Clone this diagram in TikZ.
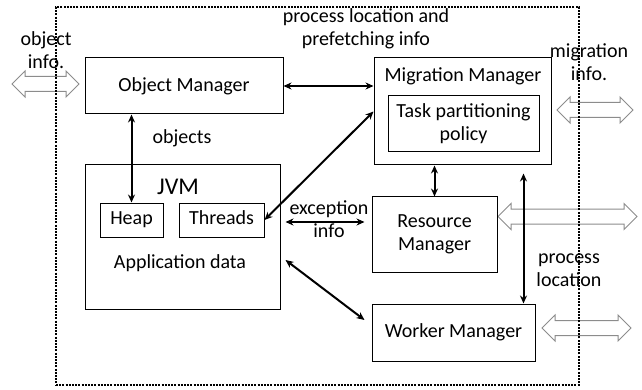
\documentclass[tikz,border=0pt]{standalone}
\usepackage{fontspec}
\setmainfont{Carlito}
\usetikzlibrary{arrows.meta,positioning,shapes.arrows,calc}

\begin{document}
\begin{tikzpicture}[x=1pt,y=-1pt,font=\fontsize{20}{23}\selectfont,
  box/.style={draw,line width=1pt,inner sep=0pt,align=center},
  link/.style={{Stealth[length=8pt,width=7pt]}-{Stealth[length=8pt,width=7pt]},line width=2pt},
  info/.style={double arrow,draw=black!45,line width=1pt,inner sep=0pt,
               inner ysep=7pt,double arrow head extend=5.5pt},
  lbl/.style={align=center,inner sep=0pt}]
  \useasboundingbox (0,0) rectangle (642,390);

  % interface arrows to the outside
  \node[info,minimum height=67pt] (oi) at (45.5,84) {};
  \node[info,minimum height=76pt] (mi) at (595,110) {};
  \node[info,minimum height=139pt] (ri) at (567.5,216.5) {};
  \node[info,minimum height=89pt] (wi) at (586.5,328) {};

  % node boundary
  \node[draw,line width=2.4pt,dash pattern=on 2pt off 1.2pt,
        minimum width=523pt,minimum height=378pt] (sys) at (317.5,196) {};

  % left column
  \node[box,minimum width=198pt,minimum height=56pt] (om) at (184,86) {Object Manager};
  \node[box,minimum width=195pt,minimum height=144pt] (jvm) at (182.5,237) {};
  \node[font=\fontsize{24}{26}\selectfont] (jvmlbl) at (178,187) {JVM};
  \node[box,minimum width=63pt,minimum height=34pt,text height=14pt,text depth=5pt]
        (heap) at (131.5,220) {Heap};
  \node[box,minimum width=85pt,minimum height=34pt,text height=14pt,text depth=5pt]
        (thr) at (221.5,220) {Threads};
  \node (appdata) at (180,263) {Application data};

  % right column
  \node[box,minimum width=177pt,minimum height=107pt] (mm) at (462.5,111.5) {};
  \node (mmlbl) at (463,76) {Migration Manager};
  \node[box,minimum width=151pt,minimum height=56pt] (tpp) at (463.5,124)
        {Task partitioning\\policy};
  \node[box,minimum width=125pt,minimum height=75pt] (rm) at (434.5,234.5)
        {Resource\\Manager};
  \node[box,minimum width=163pt,minimum height=57pt] (wm) at (453.5,332.5)
        {Worker Manager};

  % connections
  \draw[link] (om.east) -- (om.east -| mm.west);
  \draw[link] (om.south -| heap.north) -- (heap.north);
  \draw[link] (thr.east) -- (mm.west);
  \draw[link] ($(jvm.east)+(5,-15)$) -- ($(jvm.east -| rm.west)+(-7,-15)$);
  \draw[link] ($(jvm.east)+(5,23)$) -- ($(wm.west)+(-7,-12.5)$);
  \draw[link] (mm.south -| rm.north) -- (rm.north);
  \draw[link] ($(mm.south -| wm.north east)+(-12,8)$) -- ($(wm.north east)+(-12,0)$);

  % labels
  \node[lbl] (plbl) at (366,29) {process location and\\prefetching info};
  \node[lbl] (objlbl) at (182,138) {objects};
  \node[lbl] (exlbl) at (329,219) {exception\\info};
  \node[lbl] (loclbl) at (569,270) {process\\location};
  \node[lbl] (oilbl) at (46,50) {object\\info.};
  \node[lbl] (milbl) at (589,62) {migration\\info.};
\end{tikzpicture}
\end{document}
